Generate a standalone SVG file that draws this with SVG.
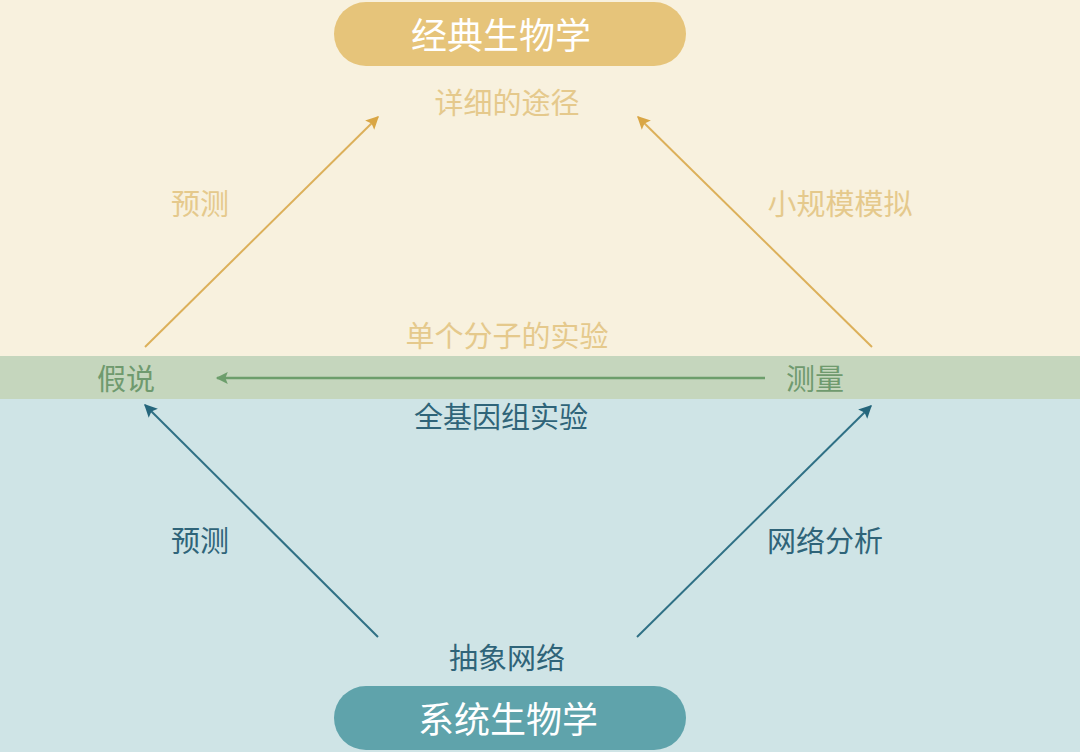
<svg xmlns="http://www.w3.org/2000/svg" width="1080" height="752" viewBox="0 0 1080 752">
<defs>
<style>
text{font-family:"Noto Sans CJK SC","Noto Sans",sans-serif;text-anchor:middle;dominant-baseline:central}
.ty{fill:#e5c98c;font-size:29px}
.tg{fill:#6f9a6e;font-size:29px}
.tb{fill:#2f6479;font-size:29px}
.title{fill:#ffffff;font-size:36px}
.ay{stroke:#dcb05a;stroke-width:2;fill:none}
.ab{stroke:#2f7085;stroke-width:2;fill:none}
.ag{stroke:#6d9e6c;stroke-width:2.5;fill:none}
</style>
<marker id="my" viewBox="0 0 10 10" refX="9" refY="5" markerWidth="15" markerHeight="13" markerUnits="userSpaceOnUse" orient="auto"><path d="M0,0 L10,5 L0,10 L2,5 Z" fill="#d9a645"/></marker>
<marker id="mb" viewBox="0 0 10 10" refX="9" refY="5" markerWidth="15" markerHeight="13" markerUnits="userSpaceOnUse" orient="auto"><path d="M0,0 L10,5 L0,10 L2,5 Z" fill="#25667c"/></marker>
<marker id="mg" viewBox="0 0 10 10" refX="9" refY="5" markerWidth="15" markerHeight="12" markerUnits="userSpaceOnUse" orient="auto"><path d="M0,0 L10,5 L0,10 L2,5 Z" fill="#6d9e6c"/></marker>
</defs>
<rect x="0" y="0" width="1080" height="356" fill="#f8f1de"/>
<rect x="0" y="356" width="1080" height="43" fill="#c5d6bd"/>
<rect x="0" y="399" width="1080" height="353" fill="#cfe4e6"/>
<g id="connectors">
<line class="ay" x1="145" y1="347" x2="378" y2="117" marker-end="url(#my)"/>
<line class="ay" x1="872" y1="347" x2="638" y2="117" marker-end="url(#my)"/>
<line class="ag" x1="765" y1="378" x2="217" y2="378" marker-end="url(#mg)"/>
<line class="ab" x1="378" y1="637" x2="145" y2="405" marker-end="url(#mb)"/>
<line class="ab" x1="637" y1="637" x2="871" y2="406" marker-end="url(#mb)"/>
</g>
<g id="classical">
<rect x="334" y="2" width="352" height="64" rx="32" fill="#e6c47a"/>
<text class="title" x="501" y="33">经典生物学</text>
</g>
<g id="systems">
<rect x="334" y="686" width="352" height="64" rx="32" fill="#5fa3ab"/>
<text class="title" x="508" y="717">系统生物学</text>
</g>
<g id="pathway"><text class="ty" x="507" y="101">详细的途径</text></g>
<g id="predict-top"><text class="ty" x="200" y="202">预测</text></g>
<g id="smallsim"><text class="ty" x="840" y="202">小规模模拟</text></g>
<g id="single"><text class="ty" x="507" y="334">单个分子的实验</text></g>
<g id="hypothesis"><text class="tg" x="126" y="377">假说</text></g>
<g id="measure"><text class="tg" x="815" y="377">测量</text></g>
<g id="genome"><text class="tb" x="501" y="415">全基因组实验</text></g>
<g id="predict-bottom"><text class="tb" x="200" y="539">预测</text></g>
<g id="netanalysis"><text class="tb" x="825" y="539">网络分析</text></g>
<g id="abstract"><text class="tb" x="507" y="656">抽象网络</text></g>
</svg>
